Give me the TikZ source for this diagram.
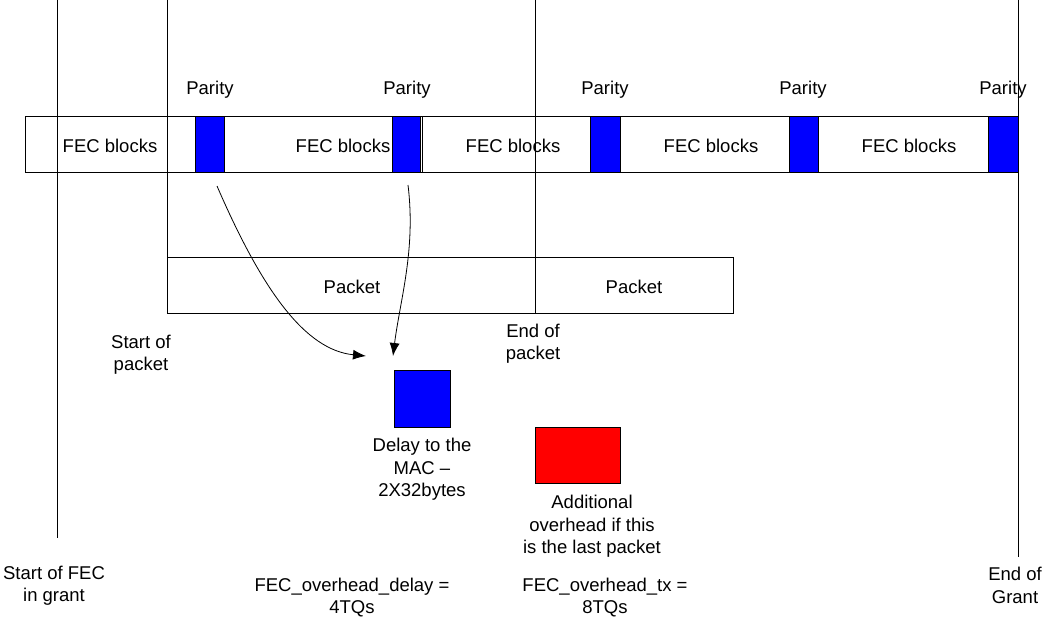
\documentclass[tikz,border=0pt]{standalone}
\usepackage{fontspec}
\setmainfont{Liberation Sans}
\usetikzlibrary{arrows.meta}
\begin{document}
\begin{tikzpicture}[x=1pt,y=-1pt,line width=1pt,
  lbl/.style={font=\fontsize{18.5}{22.5}\selectfont,align=center,inner sep=0pt,yshift=-1.5pt},
  band/.style={draw=black,line width=1pt},
  paritybox/.style={draw=black,fill=blue,line width=1pt},
  overbox/.style={draw=black,fill=red,line width=1pt},
  vline/.style={draw=black,line width=1pt},
  curv/.style={draw=black,line width=0.8pt,-{Latex[length=13pt,width=10pt]}}]
\useasboundingbox (0,0) rectangle (1049,621);
% vertical lines
\coordinate (v1t) at (57,0);   \coordinate (v1b) at (57,538);
\coordinate (v2t) at (167,0);  \coordinate (v2b) at (167,313);
\coordinate (v3t) at (535,0);  \coordinate (v3b) at (535,313);
\coordinate (v4t) at (1018,0); \coordinate (v4b) at (1018,557);
% FEC band
\draw[band] (25,116) rectangle (1018,172);
\draw[vline] (422,116) -- (422,172);
\draw[paritybox] (195,116) rectangle (224,172);
\draw[paritybox] (392,116) rectangle (420,172);
\draw[paritybox] (590,116) rectangle (620,172);
\draw[paritybox] (789,116) rectangle (818,172);
\draw[paritybox] (988,116) rectangle (1018,172);
\draw[vline] (v1t) -- (v1b);
\draw[vline] (v2t) -- (v2b);
\draw[vline] (v3t) -- (v3b);
\draw[vline] (v4t) -- (v4b);
% labels in band
\node[lbl] (f1) at (110,144) {FEC blocks};
\node[lbl] (f2) at (343,144) {FEC blocks};
\node[lbl] (f3) at (513,144) {FEC blocks};
\node[lbl] (f4) at (711,144) {FEC blocks};
\node[lbl] (f5) at (909,144) {FEC blocks};
\node[lbl] (q1) at (210,88) {Parity};
\node[lbl] (q2) at (407,88) {Parity};
\node[lbl] (q3) at (605,88) {Parity};
\node[lbl] (q4) at (803,88) {Parity};
\node[lbl] (q5) at (1003,88) {Parity};
% packets
\draw[band] (167,257) rectangle (733,313);
\draw[vline] (535,257) -- (535,313);
\node[lbl] (pk1) at (352,285) {Packet};
\node[lbl] (pk2) at (634,285) {Packet};
% boxes
\draw[paritybox] (394,370) rectangle (450,427);
\draw[overbox] (535,427) rectangle (620,483);
% curved arrows
\coordinate (a1s) at (217,186); \coordinate (a1e) at (366,356);
\coordinate (a2s) at (408,185); \coordinate (a2e) at (393,356);
\draw[curv] (a1s) .. controls (262,290) and (305,350) .. (a1e);
\draw[curv] (a2s) .. controls (416,250) and (400,300) .. (a2e);
% texts
\node[lbl] (sp) at (141,353) {Start of\\packet};
\node[lbl] (ep) at (533,342) {End of\\packet};
\node[lbl] (dl) at (422,468) {Delay to the\\MAC --\\2X32bytes};
\node[lbl] (ad) at (592,525) {Additional\\overhead if this\\is the last packet};
\node[lbl] (sf) at (54,584) {Start of FEC\\in grant};
\node[lbl] (od) at (352,596) {FEC\_overhead\_delay =\\4TQs};
\node[lbl] (ot) at (605,596) {FEC\_overhead\_tx =\\8TQs};
\node[lbl] (eg) at (1015,584) {End of\\Grant};
\end{tikzpicture}
\end{document}
